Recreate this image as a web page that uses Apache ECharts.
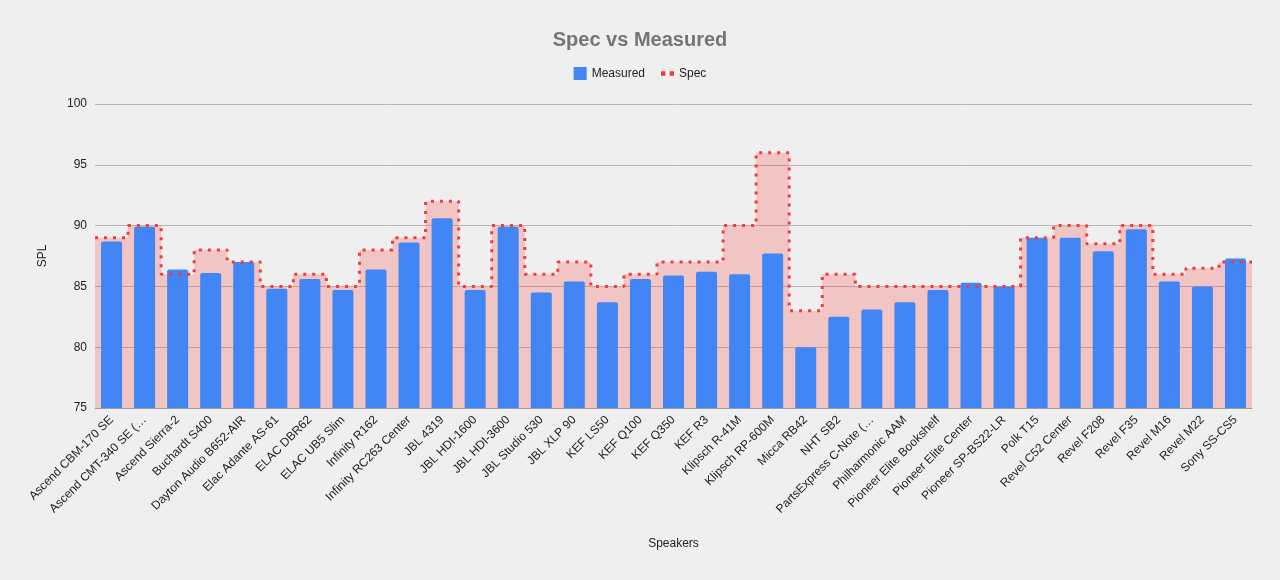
<!DOCTYPE html>
<html>
<head>
<meta charset="utf-8">
<script src="https://cdn.jsdelivr.net/npm/echarts@6/dist/echarts.min.js"></script>
<style>
html,body{margin:0;padding:0;background:#efefef;}
#chart{width:1280px;height:580px;}
</style>
</head>
<body>
<div id="chart"></div>
<script>
const categories = [
  "Ascend CBM-170 SE", "Ascend CMT-340 SE (…", "Ascend Sierra-2", "Buchardt S400",
  "Dayton Audio B652-AIR", "Elac Adante AS-61", "ELAC DBR62", "ELAC UB5 Slim",
  "Infinity R162", "Infinity RC263 Center", "JBL 4319", "JBL HDI-1600",
  "JBL HDI-3600", "JBL Studio 530", "JBL XLP 90", "KEF LS50", "KEF Q100",
  "KEF Q350", "KEF R3", "Klipsch R-41M", "Klipsch RP-600M", "Micca RB42",
  "NHT SB2", "PartsExpress C-Note (…", "Philharmonic AAM", "Pioneer Elite Bookshelf",
  "Pioneer Elite Center", "Pioneer SP-BS22-LR", "Polk T15", "Revel C52 Center",
  "Revel F208", "Revel F35", "Revel M16", "Revel M22", "Sony SS-CS5"
];
const measured = [
  88.7, 89.9, 86.4, 86.1, 87.0, 84.8, 85.6, 84.7, 86.4, 88.6,
  90.6, 84.7, 89.9, 84.5, 85.4, 83.7, 85.6, 85.9, 86.2, 86.0,
  87.7, 80.0, 82.5, 83.1, 83.7, 84.7, 85.3, 85.0, 89.0, 89.0,
  87.9, 89.7, 85.4, 85.0, 87.3
];
const spec = [
  89, 90, 86, 88, 87, 85, 86, 85, 88, 89,
  92, 85, 90, 86, 87, 85, 86, 87, 87, 90,
  96, 83, 86, 85, 85, 85, 85, 85, 89, 90,
  88.5, 90, 86, 86.5, 87
];
const yTicks = { min: 75, max: 100, interval: 5 };

// Step edges: each spec value is held across its full category band
const edgeCats = categories.concat([""]);
const specEdges = spec.concat([spec[spec.length - 1]]);

const FONT = "'Liberation Sans', Arial, sans-serif";
const chart = echarts.init(document.getElementById('chart'));
chart.setOption({
  backgroundColor: '#efefef',
  animation: false,
  textStyle: { fontFamily: FONT },
  title: {
    text: 'Spec vs Measured',
    left: 'center',
    top: 25,
    textStyle: { fontFamily: FONT, fontSize: 20, fontWeight: 'bold', color: '#757575' }
  },
  legend: {
    top: 62,
    left: 'center',
    itemGap: 16,
    itemWidth: 13,
    itemHeight: 13,
    textStyle: { fontFamily: FONT, fontSize: 12, color: '#222' },
    data: [
      { name: 'Measured', icon: 'rect', itemStyle: { color: '#4285f4' } },
      { name: 'Spec', icon: 'path://M0,0h4v4h-4z M8,0h4v4h-4z', itemStyle: { color: '#f03c3c' } }
    ]
  },
  grid: { left: 95, right: 28, top: 104, bottom: 172 },
  xAxis: [
    {
      type: 'category',
      data: categories,
      name: 'Speakers',
      nameLocation: 'middle',
      nameGap: 130,
      nameTextStyle: { fontFamily: FONT, fontSize: 12, color: '#222' },
      axisLine: { lineStyle: { color: '#9e9e9e' } },
      axisTick: { show: false },
      axisLabel: { rotate: 45, interval: 0, fontSize: 12, color: '#222', fontFamily: FONT, margin: 10 }
    },
    {
      type: 'category',
      data: edgeCats,
      boundaryGap: false,
      show: false
    }
  ],
  yAxis: {
    type: 'value',
    min: yTicks.min,
    max: yTicks.max,
    interval: yTicks.interval,
    name: 'SPL',
    nameLocation: 'middle',
    nameRotate: 90,
    nameGap: 46,
    nameTextStyle: { fontFamily: FONT, fontSize: 12, color: '#222' },
    axisLine: { show: false },
    axisTick: { show: false },
    axisLabel: { fontSize: 12, color: '#222', fontFamily: FONT, margin: 8 },
    splitLine: { lineStyle: { color: '#b7b7b7', width: 1 } }
  },
  series: [
    {
      name: 'SpecArea',
      type: 'line',
      xAxisIndex: 1,
      data: specEdges,
      step: 'end',
      showSymbol: false,
      silent: true,
      lineStyle: { width: 0, opacity: 0 },
      areaStyle: { color: 'rgba(250,60,55,0.33)', origin: 'start' },
      z: 1
    },
    {
      name: 'Measured',
      type: 'bar',
      data: measured,
      barWidth: 21,
      itemStyle: { color: '#4285f4', borderRadius: [2, 2, 0, 0] },
      z: 2
    },
    {
      name: 'Spec',
      type: 'line',
      xAxisIndex: 1,
      data: specEdges,
      step: 'end',
      showSymbol: false,
      lineStyle: { color: '#f03c3c', width: 3, type: [3, 6], cap: 'butt' },
      z: 3
    }
  ]
});
</script>
</body>
</html>
